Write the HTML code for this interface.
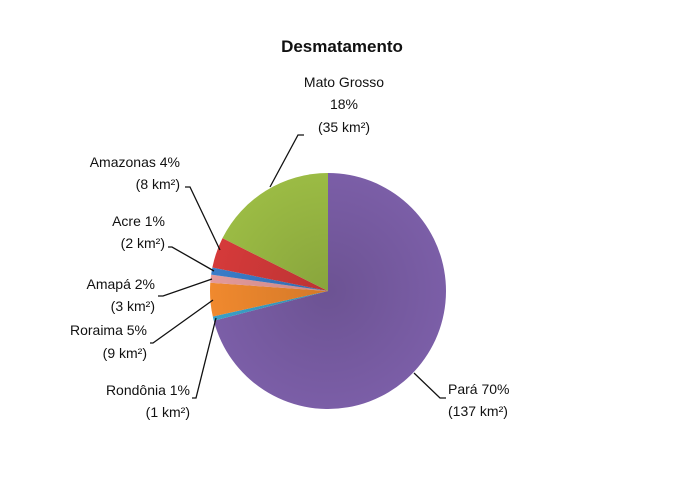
<!DOCTYPE html>
<html><head><meta charset="utf-8"><style>
body{margin:0;background:#fff}
text{font-family:"Liberation Sans",sans-serif;font-size:14px;fill:#111}
</style></head><body>
<svg width="678" height="495" viewBox="0 0 678 495">
<defs>
<radialGradient id="g" cx="328" cy="291" r="118" gradientUnits="userSpaceOnUse">
<stop offset="0" stop-color="#000" stop-opacity="0.12"/><stop offset="1" stop-color="#000" stop-opacity="0"/>
</radialGradient>
</defs>
<g id="pie"></g>
<text x="342" y="52" text-anchor="middle" style="font-size:17px;font-weight:bold">Desmatamento</text>
<text x="344" y="87" text-anchor="middle">Mato Grosso</text>
<text x="344" y="109" text-anchor="middle">18%</text>
<text x="344" y="132" text-anchor="middle">(35 km²)</text>
<text x="180" y="167" text-anchor="end">Amazonas 4%</text>
<text x="180" y="189" text-anchor="end">(8 km²)</text>
<text x="165" y="226" text-anchor="end">Acre 1%</text>
<text x="165" y="248" text-anchor="end">(2 km²)</text>
<text x="155" y="289" text-anchor="end">Amapá 2%</text>
<text x="155" y="311" text-anchor="end">(3 km²)</text>
<text x="147" y="335" text-anchor="end">Roraima 5%</text>
<text x="147" y="358" text-anchor="end">(9 km²)</text>
<text x="190" y="395" text-anchor="end">Rondônia 1%</text>
<text x="190" y="417" text-anchor="end">(1 km²)</text>
<text x="448" y="394">Pará 70%</text>
<text x="448" y="416">(137 km²)</text>
<g stroke="#111" stroke-width="1.3" fill="none">
<polyline points="270,187 298,135 304,135"/>
<polyline points="220,250 190,187 185,187"/>
<polyline points="214,271 172,247 168,247"/>
<polyline points="212,279 163,296 158,296"/>
<polyline points="213,300 153,343 150,343"/>
<polyline points="216,318 196,398 192,398"/>
<polyline points="414,373 440,398 446,398"/>
</g>
</svg>
<script>
var cx=328,cy=291,r=118;
var s=[[90,-165.4,"#7b5ea7"],[194.6,192.5,"#3aa0c8"],[192.5,176,"#f0892e"],[176,172,"#e49a9a"],[172,168.5,"#3a7cc8"],[168.5,153.4,"#d53a3a"],[153.4,90,"#9bbb44"]];
var g=document.getElementById('pie'),h='';
function p(a){a=a*Math.PI/180;return (cx+r*Math.cos(a)).toFixed(2)+','+(cy-r*Math.sin(a)).toFixed(2);}
s.forEach(function(d){var sw=d[0]-d[1];var large=sw>180?1:0;
h+='<path d="M'+cx+','+cy+' L'+p(d[0])+' A'+r+','+r+' 0 '+large+' 1 '+p(d[1])+' Z" fill="'+d[2]+'"/>';});
h+='<circle cx="'+cx+'" cy="'+cy+'" r="'+r+'" fill="url(#g)"/>';
g.innerHTML=h;
</script>
</body></html>
